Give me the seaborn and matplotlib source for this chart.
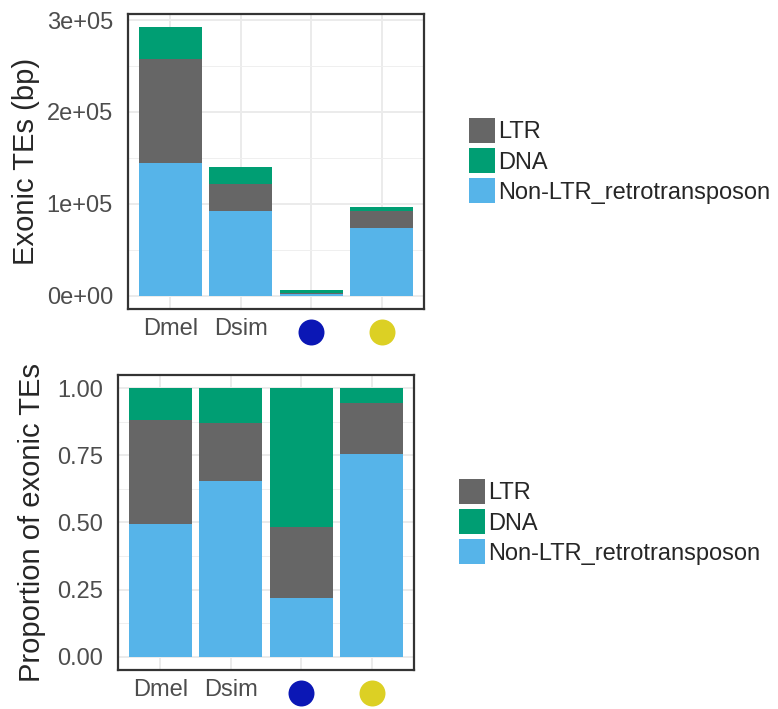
import pandas as pd
import seaborn as sns
import matplotlib.pyplot as plt
import matplotlib.transforms as mtransforms
from matplotlib.patches import Patch
from matplotlib.ticker import MultipleLocator

# Species on the x axis; the last two are shown as coloured dots
species = ["Dmel", "Dsim", "sp_blue", "sp_yellow"]
tick_labels = ["Dmel", "Dsim", "", ""]
dot_colors = [None, None, "#0B17B5", "#DCD024"]

# Exonic TE content (bp) per class
non_ltr_bp = [144000, 91600, 1350, 73200]
ltr_bp = [113500, 30400, 1650, 18400]
dna_bp = [34500, 18000, 3200, 5400]

# Stack order (top to bottom) and legend order
stack_order = ["DNA", "LTR", "Non-LTR_retrotransposon"]
legend_order = ["LTR", "DNA", "Non-LTR_retrotransposon"]
palette = {"LTR": "#666666", "DNA": "#009E73", "Non-LTR_retrotransposon": "#56B4E9"}

bp_ticks = [0, 100000, 200000, 300000]
bp_tick_labels = ["0e+00", "1e+05", "2e+05", "3e+05"]
prop_ticks = [0, 0.25, 0.5, 0.75, 1.0]
prop_tick_labels = ["0.00", "0.25", "0.50", "0.75", "1.00"]

rows = []
for cls, vals in [("Non-LTR_retrotransposon", non_ltr_bp), ("LTR", ltr_bp), ("DNA", dna_bp)]:
    for sp, v in zip(species, vals):
        rows.append({"species": sp, "te_class": cls, "bp": v})
df = pd.DataFrame(rows)
df["species"] = pd.Categorical(df["species"], categories=species, ordered=True)
df = df.sort_values(["species"]).reset_index(drop=True)

sns.set_style("white")
plt.rcParams["font.family"] = ["Liberation Sans", "DejaVu Sans"]

W, H = 778, 709
fig = plt.figure(figsize=(W / 100, H / 100), dpi=100)
ax1 = fig.add_axes([128 / W, 1 - 309 / H, 296 / W, 295 / H])
ax2 = fig.add_axes([118 / W, 1 - 670 / H, 296 / W, 295 / H])

totals = [a + b + c for a, b, c in zip(non_ltr_bp, ltr_bp, dna_bp)]
max_total = max(totals)

for ax, mode in [(ax1, "stack"), (ax2, "fill")]:
    sns.histplot(data=df, x="species", weights="bp", hue="te_class",
                 hue_order=stack_order, multiple=mode, discrete=True,
                 shrink=0.9, palette=palette, alpha=1, linewidth=0,
                 ax=ax, legend=False)
    ax.set_xlim(-0.6, len(species) - 0.4)
    ax.set_xticks(range(len(species)))
    ax.set_xticklabels(tick_labels)
    ax.set_xlabel("")
    ax.set_axisbelow(True)
    ax.grid(True, which="major", color="#EBEBEB", lw=1.4)
    ax.grid(True, which="minor", axis="y", color="#EFEFEF", lw=0.7)
    ax.tick_params(which="major", length=5.8, width=1.1, color="#333333",
                   labelcolor="#4D4D4D", labelsize=17)
    ax.tick_params(axis="x", pad=1)
    ax.tick_params(axis="y", pad=5)
    ax.tick_params(which="minor", length=0)
    for s in ax.spines.values():
        s.set_visible(True)
        s.set_color("#333333")
        s.set_linewidth(1.6)
    # coloured dots used as x tick labels
    trans = mtransforms.offset_copy(ax.get_xaxis_transform(), fig=fig, y=-23, units="dots")
    for i, c in enumerate(dot_colors):
        if c is not None:
            ax.plot(i, 0, "o", color=c, ms=18.7, mec="none", transform=trans, clip_on=False)

ax1.set_ylim(-0.05 * max_total, 1.05 * max_total)
ax1.set_yticks(bp_ticks)
ax1.set_yticklabels(bp_tick_labels)
ax1.yaxis.set_minor_locator(MultipleLocator(50000))
ax1.set_ylabel("Exonic TEs (bp)", fontsize=21, va="center")
ax1.yaxis.set_label_coords(-0.345, 0.5)

ax2.set_ylim(-0.05, 1.05)
ax2.set_yticks(prop_ticks)
ax2.set_yticklabels(prop_tick_labels)
ax2.yaxis.set_minor_locator(MultipleLocator(0.125))
ax2.set_ylabel("Proportion of exonic TEs", fontsize=21, va="center")
ax2.yaxis.set_label_coords(-0.289, 0.5)

handles = [Patch(facecolor=palette[c], edgecolor="none") for c in legend_order]
leg_kw = dict(frameon=False, fontsize=17, handlelength=1.12, handleheight=1.25,
              handletextpad=0.12, labelspacing=0.2, borderpad=0, borderaxespad=0,
              loc="upper left", bbox_transform=fig.transFigure)
fig.legend(handles, legend_order, bbox_to_anchor=(469 / W, 1 - 118 / H), **leg_kw)
fig.legend(handles, legend_order, bbox_to_anchor=(459 / W, 1 - 479 / H), **leg_kw)

fig.savefig("out.png", dpi=100)
